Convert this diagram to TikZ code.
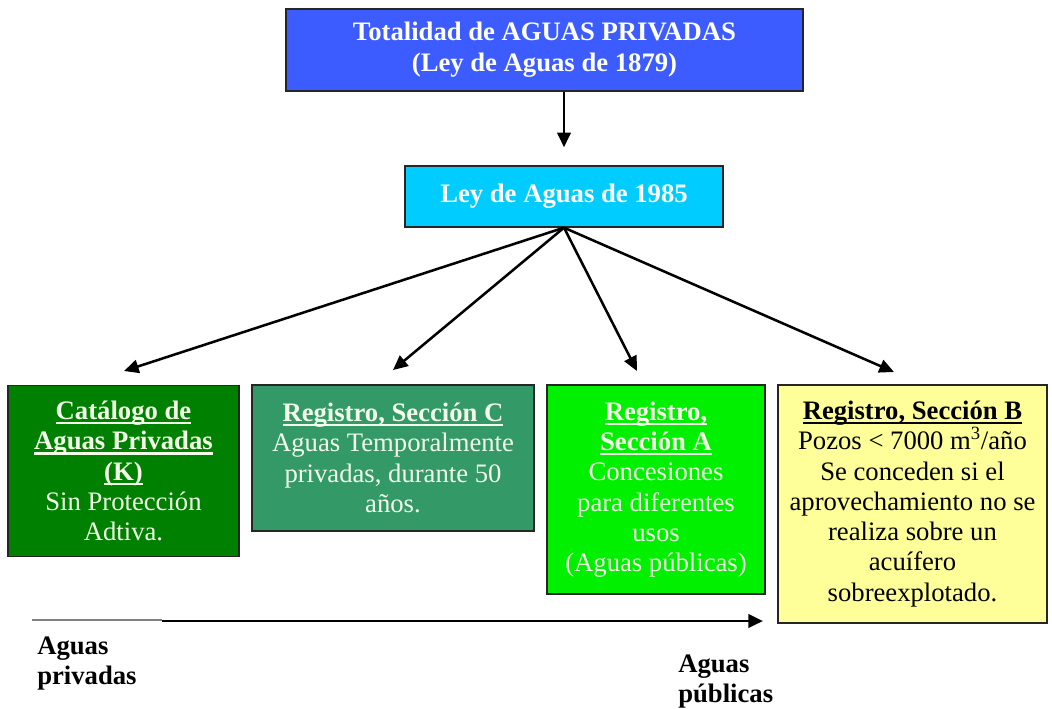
\documentclass[tikz,border=0pt]{standalone}
\usepackage{fontspec}
\setmainfont{Liberation Serif}
\usetikzlibrary{arrows.meta}

\definecolor{topblue}{HTML}{3D5CFF}
\definecolor{leycyan}{HTML}{00CCFF}
\definecolor{darkgreen}{HTML}{008000}
\definecolor{seagreen}{HTML}{339966}
\definecolor{brightgreen}{HTML}{00F000}
\definecolor{paleyellow}{HTML}{FFFF99}
\definecolor{palecream}{HTML}{F4FFE8}

% thick underline for box headings
\newcommand\hdul[1]{\setbox0\hbox{#1}\rlap{\rule[-3.6pt]{\wd0}{1.6pt}}\box0}

\tikzset{
  box/.style={draw=black!85, line width=1pt, inner sep=0pt, align=center,
    font=\rmfamily\fontsize{20pt}{22.7pt}\selectfont},
  fan/.style={line width=1.9pt, -{Triangle[length=11pt,width=10pt]}},
  label/.style={anchor=base west, align=left, inner sep=0pt,
    font=\rmfamily\fontsize{20pt}{22pt}\selectfont\bfseries}
}

\begin{document}
\begin{tikzpicture}[x=0.75pt,y=-0.75pt]
\useasboundingbox (0,0) rectangle (1052,708);

% top level boxes
\node[box, fill=topblue, text=white, minimum width=387.75pt, minimum height=61.5pt,
  font=\rmfamily\fontsize{20pt}{23pt}\selectfont\bfseries] (total) at (544.5,50)
  {Totalidad de AGUAS PRIVADAS\\(Ley de Aguas de 1879)};
\node[box, fill=leycyan, text=white, minimum width=238.5pt, minimum height=45.75pt,
  font=\rmfamily\fontsize{20pt}{23pt}\selectfont\bfseries] (ley) at (564,196.5)
  {Ley de Aguas de 1985};

% bottom row of categories
\node[box, fill=darkgreen, text=palecream, minimum width=173.25pt, minimum height=128.25pt]
  (cat) at (123.5,471)
  {\textbf{\hdul{Catálogo de}}\\\textbf{\hdul{Aguas Privadas}}\\\textbf{\hdul{(K)}}\\Sin Protección\\Adtiva.};
\node[box, fill=seagreen, text=palecream, minimum width=211.5pt, minimum height=109.5pt]
  (secc) at (393,458)
  {\textbf{\hdul{Registro, Sección C}}\\Aguas Temporalmente\\privadas, durante 50\\años.};
\node[box, fill=brightgreen, text=palecream, minimum width=163.5pt, minimum height=156.75pt]
  (seca) at (656,489.5)
  {\textbf{\hdul{Registro,}}\\\textbf{\hdul{Sección A}}\\Concesiones\\para diferentes\\usos\\(Aguas públicas)};
\node[box, fill=paleyellow, text=black, minimum width=201.75pt, minimum height=178.5pt]
  (secb) at (912.5,504)
  {\textbf{\hdul{Registro, Sección B}}\\Pozos < 7000 m\textsuperscript{3}/año\\Se conceden si el\\aprovechamiento no se\\realiza sobre un\\acuífero\\sobreexplotado.};

% arrow heads stop short of the boxes
\coordinate (tcat) at (124,371);
\coordinate (tsecc) at (393,370);
\coordinate (tseca) at (637,371);
\coordinate (tsecb) at (894,372);

\draw[fan, shorten >=13.5pt] (ley.north |- total.south) -- (ley.north);
\draw[fan] (ley.south) -- (tcat);
\draw[fan] (ley.south) -- (tsecc);
\draw[fan] (ley.south) -- (tseca);
\draw[fan] (ley.south) -- (tsecb);

% private -> public axis
\coordinate (axstart) at (32,620);
\coordinate (axmid) at (162,620);
\coordinate (axend) at (763,621);
\draw[gray, line width=1.2pt] (axstart) -- (axmid);
\draw[line width=2.2pt, -{Triangle[length=11pt,width=10pt]}] (axmid |- axend) -- (axend);

% axis end labels (base anchor sits on the last line)
\node[label] (priv) at (37,684) {Aguas\\privadas};
\node[label] (publ) at (678,702) {Aguas\\públicas};
\end{tikzpicture}
\end{document}
